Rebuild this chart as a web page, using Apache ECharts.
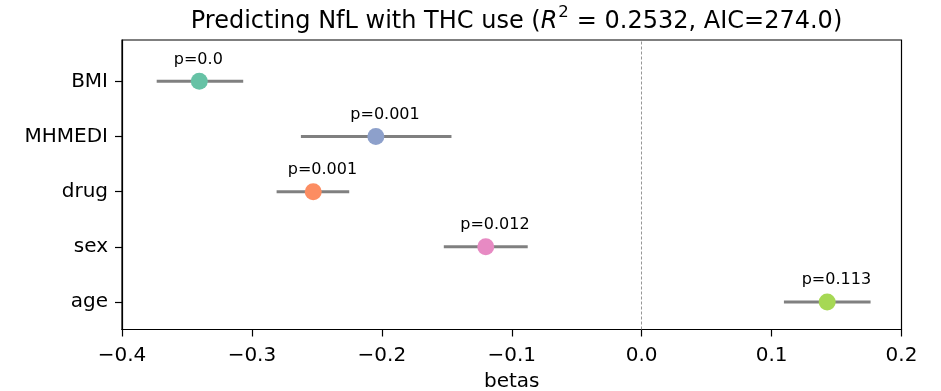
<!DOCTYPE html>
<html>
<head>
<meta charset="utf-8">
<script src="https://cdn.jsdelivr.net/npm/echarts@6/dist/echarts.min.js"></script>
<style>
  html, body { margin: 0; padding: 0; background: #fff; }
  #chart { width: 941px; height: 391px; }
</style>
</head>
<body>
<div id="chart"></div>
<script>
// features listed top to bottom, as in the picture
const features = ['BMI', 'MHMEDI', 'drug', 'sex', 'age'];
const betas = [-0.3405, -0.2046, -0.2528, -0.1200, 0.1428];
const ciLow = [-0.3733, -0.2623, -0.2810, -0.1523, 0.1095];
const ciHigh = [-0.3067, -0.1464, -0.2251, -0.0877, 0.1762];
const pValues = ['0.0', '0.001', '0.001', '0.012', '0.113'];
const pointColors = ['#66c2a5', '#8da0cb', '#fc8d62', '#e78ac3', '#a6d854'];

const FONT = 'DejaVu Sans';
const n = features.length;
// y position: top feature gets highest value
const yPos = features.map((f, i) => n - 1 - i);

const chart = echarts.init(document.getElementById('chart'));

const errData = features.map((f, i) => [ciLow[i], ciHigh[i], yPos[i]]);
const pointData = features.map((f, i) => ({
	value: [betas[i], yPos[i]],
	itemStyle: { color: pointColors[i], opacity: 1 },
	label: { formatter: 'p=' + pValues[i] }
}));

const fmtTick = v => {
	const s = (Math.round(v * 10) / 10).toFixed(1);
	return s === '-0.0' ? '0.0' : s.replace('-', '\u2212');
};

const option = {
	animation: false,
	backgroundColor: '#fff',
	title: {
		text: '{n|Predicting NfL with THC use (}{i|R}{s|2}{n|= 0.2532, AIC=274.0)}',
		left: 511.5,
		textAlign: 'center',
		top: -1,
		textStyle: {
			rich: {
				n: { fontFamily: FONT, fontSize: 24, fontWeight: 'normal', color: '#000', lineHeight: 30, verticalAlign: 'bottom' },
				i: { fontFamily: FONT, fontSize: 24, fontWeight: 'normal', color: '#000', fontStyle: 'italic', lineHeight: 30, verticalAlign: 'bottom' },
				s: { fontFamily: FONT, fontSize: 16.5, fontWeight: 'normal', color: '#000', lineHeight: 26, verticalAlign: 'top', padding: [0, 8, 0, 1] }
			}
		}
	},
	grid: {
		left: 122,
		right: 39.5,
		top: 40,
		bottom: 61.5,
		outerBoundsMode: 'none',
		containLabel: false,
		show: true,
		borderColor: '#000',
		borderWidth: 1.2,
		backgroundColor: 'transparent'
	},
	xAxis: {
		type: 'value',
		min: -0.4,
		max: 0.2,
		interval: 0.1,
		name: 'betas',
		nameLocation: 'middle',
		nameGap: 42,
		nameTextStyle: { fontFamily: FONT, fontSize: 20, color: '#000' },
		axisLine: { show: true, onZero: false, lineStyle: { color: '#000', width: 1.2 } },
		axisTick: { show: true, length: 7, lineStyle: { color: '#000', width: 1.2 } },
		axisLabel: {
			fontFamily: FONT, fontSize: 20, color: '#000', margin: 16,
			formatter: fmtTick
		},
		splitLine: { show: false }
	},
	yAxis: {
		type: 'value',
		min: -0.5,
		max: 4.75,
		axisLine: { show: true, onZero: false, lineStyle: { color: '#000', width: 1.2 } },
		axisTick: { show: true, length: 7, customValues: yPos, lineStyle: { color: '#000', width: 1.2 } },
		axisLabel: {
			fontFamily: FONT, fontSize: 20, color: '#000', margin: 14,
			customValues: yPos,
			formatter: v => features[n - 1 - Math.round(v)]
		},
		splitLine: { show: false }
	},
	series: [
		{
			type: 'custom',
			name: 'ci',
			data: errData,
			encode: { x: [0, 1], y: 2 },
			z: 2,
			renderItem: (params, api) => {
				const a = api.coord([api.value(0), api.value(2)]);
				const b = api.coord([api.value(1), api.value(2)]);
				return {
					type: 'line',
					shape: { x1: a[0], y1: a[1], x2: b[0], y2: b[1] },
					style: { stroke: '#808080', lineWidth: 3 }
				};
			}
		},
		{
			type: 'scatter',
			name: 'beta',
			data: pointData,
			symbol: 'circle',
			symbolSize: 17,
			z: 3,
			label: {
				show: true,
				position: [-17, -13.5],
				align: 'left',
				verticalAlign: 'middle',
				fontFamily: FONT,
				fontSize: 16,
				color: '#000'
			},
			markLine: {
				silent: true,
				symbol: ['none', 'none'],
				label: { show: false },
				lineStyle: { color: '#8a8a8a', width: 0.9, type: [3, 2], opacity: 1 },
				data: [{ xAxis: 0 }]
			}
		}
	]
};

chart.setOption(option);
</script>
</body>
</html>
